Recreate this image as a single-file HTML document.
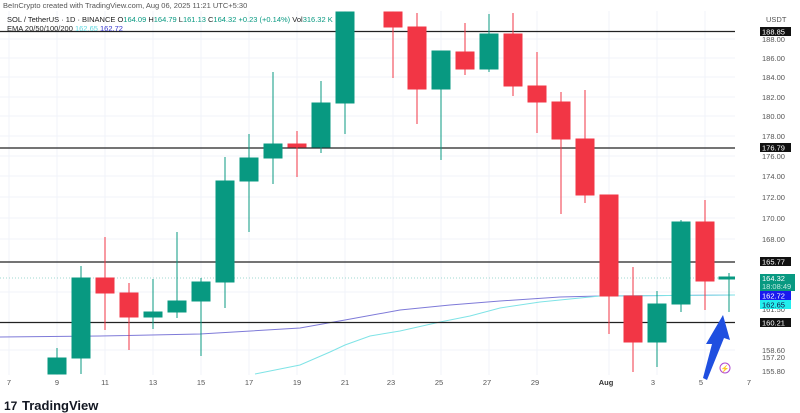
<!DOCTYPE html>
<html><head><meta charset="utf-8"><style>
body{margin:0;background:#fff;font-family:"Liberation Sans",sans-serif}
svg{display:block}
</style></head><body>
<svg width="800" height="413" xmlns="http://www.w3.org/2000/svg" font-family="Liberation Sans, sans-serif">
<rect width="800" height="413" fill="#fff"/>
<g stroke="#f0f3fa" stroke-width="1">
<line x1="9" y1="10" x2="9" y2="375"/><line x1="57" y1="10" x2="57" y2="375"/><line x1="105" y1="10" x2="105" y2="375"/><line x1="153" y1="10" x2="153" y2="375"/><line x1="201" y1="10" x2="201" y2="375"/><line x1="249" y1="10" x2="249" y2="375"/><line x1="297" y1="10" x2="297" y2="375"/><line x1="345" y1="10" x2="345" y2="375"/><line x1="393" y1="10" x2="393" y2="375"/><line x1="441" y1="10" x2="441" y2="375"/><line x1="489" y1="10" x2="489" y2="375"/><line x1="537" y1="10" x2="537" y2="375"/><line x1="609" y1="10" x2="609" y2="375"/><line x1="657" y1="10" x2="657" y2="375"/><line x1="705" y1="10" x2="705" y2="375"/>
<line x1="0" y1="39" x2="735" y2="39"/><line x1="0" y1="58" x2="735" y2="58"/><line x1="0" y1="77" x2="735" y2="77"/><line x1="0" y1="97" x2="735" y2="97"/><line x1="0" y1="116" x2="735" y2="116"/><line x1="0" y1="136" x2="735" y2="136"/><line x1="0" y1="156" x2="735" y2="156"/><line x1="0" y1="176" x2="735" y2="176"/><line x1="0" y1="197" x2="735" y2="197"/><line x1="0" y1="218" x2="735" y2="218"/><line x1="0" y1="239" x2="735" y2="239"/><line x1="0" y1="292" x2="735" y2="292"/><line x1="0" y1="350" x2="735" y2="350"/>
</g>
<line x1="0" y1="278" x2="735" y2="278" stroke="#9fd8d0" stroke-width="1" stroke-dasharray="1,2"/>
<polyline fill="none" stroke="#7e7ad8" stroke-width="1" points="0,337 100,336 200,334 300,328 345,320 400,310 450,305 500,301 560,297 600,296 735,295"/>
<polyline fill="none" stroke="#7fe3e6" stroke-width="1" points="255,374 300,365 330,352 345,345 370,336 400,331 440,322 470,316 500,308 540,302 570,299 600,296 735,295"/>
<g stroke="#222" stroke-width="1.3">
<line x1="0" y1="31.5" x2="735" y2="31.5"/><line x1="0" y1="148" x2="735" y2="148"/><line x1="0" y1="262" x2="735" y2="262"/><line x1="0" y1="322.5" x2="735" y2="322.5"/>
</g>
<g id="c">
<!-- green -->
<g fill="#089981" stroke="#089981">
<line x1="57" y1="348" x2="57" y2="374"/><rect x="48" y="358" width="18" height="16"/>
<line x1="81" y1="266" x2="81" y2="374"/><rect x="72" y="278" width="18" height="80"/>
<line x1="153" y1="279" x2="153" y2="329"/><rect x="144" y="312" width="18" height="5"/>
<line x1="177" y1="232" x2="177" y2="318"/><rect x="168" y="301" width="18" height="11"/>
<line x1="201" y1="278" x2="201" y2="356"/><rect x="192" y="282" width="18" height="19"/>
<line x1="225" y1="157" x2="225" y2="308"/><rect x="216" y="181" width="18" height="101"/>
<line x1="249" y1="134" x2="249" y2="232"/><rect x="240" y="158" width="18" height="23"/>
<line x1="273" y1="72" x2="273" y2="184"/><rect x="264" y="144" width="18" height="14"/>
<line x1="321" y1="81" x2="321" y2="153"/><rect x="312" y="103" width="18" height="44"/>
<line x1="345" y1="13" x2="345" y2="134"/><rect x="336" y="12" width="18" height="91"/>
<line x1="441" y1="51" x2="441" y2="160"/><rect x="432" y="51" width="18" height="38"/>
<line x1="489" y1="14" x2="489" y2="72"/><rect x="480" y="34" width="18" height="35"/>
<line x1="657" y1="291" x2="657" y2="367"/><rect x="648" y="304" width="18" height="38"/>
<line x1="681" y1="220" x2="681" y2="312"/><rect x="672" y="222" width="18" height="82"/>
<line x1="729" y1="273" x2="729" y2="312"/><rect x="719" y="277" width="18" height="2"/>
</g>
<g fill="#f23645" stroke="#f23645">
<line x1="105" y1="237" x2="105" y2="330"/><rect x="96" y="278" width="18" height="15"/>
<line x1="129" y1="283" x2="129" y2="350"/><rect x="120" y="293" width="18" height="24"/>
<line x1="297" y1="131" x2="297" y2="177"/><rect x="288" y="144" width="18" height="3"/>
<line x1="393" y1="12" x2="393" y2="78"/><rect x="384" y="12" width="18" height="15"/>
<line x1="417" y1="13" x2="417" y2="124"/><rect x="408" y="27" width="18" height="62"/>
<line x1="465" y1="23" x2="465" y2="75"/><rect x="456" y="52" width="18" height="17"/>
<line x1="513" y1="13" x2="513" y2="96"/><rect x="504" y="34" width="18" height="52"/>
<line x1="537" y1="52" x2="537" y2="133"/><rect x="528" y="86" width="18" height="16"/>
<line x1="561" y1="92" x2="561" y2="214"/><rect x="552" y="102" width="18" height="37"/>
<line x1="585" y1="90" x2="585" y2="203"/><rect x="576" y="139" width="18" height="56"/>
<line x1="609" y1="195" x2="609" y2="334"/><rect x="600" y="195" width="18" height="101"/>
<line x1="633" y1="267" x2="633" y2="372"/><rect x="624" y="296" width="18" height="46"/>
<line x1="705" y1="200" x2="705" y2="310"/><rect x="696" y="222" width="18" height="59"/>
</g>
</g>
<rect x="0" y="0" width="800" height="11" fill="#fff"/>
<rect x="735" y="0" width="65" height="413" fill="#fff"/>
<rect x="0" y="376" width="735" height="37" fill="#fff"/>
<g font-size="7.5" fill="#555">
<text x="3" y="8">BeInCrypto created with TradingView.com, Aug 06, 2025 11:21 UTC+5:30</text>
</g>
<g font-size="7.5" fill="#222">
<text x="7" y="22">SOL / TetherUS · 1D · BINANCE  O<tspan fill="#089981">164.09</tspan> H<tspan fill="#089981">164.79</tspan> L<tspan fill="#089981">161.13</tspan> C<tspan fill="#089981">164.32</tspan> <tspan fill="#089981">+0.23 (+0.14%)</tspan> Vol<tspan fill="#089981">316.32 K</tspan></text>
<text x="7" y="31">EMA 20/50/100/200 <tspan fill="#5fd8e0">162.65</tspan> <tspan fill="#3333cc">162.72</tspan></text>
</g>
<g font-size="7.5" fill="#555">
<text x="766" y="22">USDT</text>
<text x="762" y="42">188.00</text><text x="762" y="61">186.00</text><text x="762" y="80">184.00</text><text x="762" y="100">182.00</text><text x="762" y="119">180.00</text><text x="762" y="139">178.00</text><text x="762" y="159">176.00</text><text x="762" y="179">174.00</text><text x="762" y="200">172.00</text><text x="762" y="221">170.00</text><text x="762" y="242">168.00</text><text x="762" y="312">161.50</text><text x="762" y="353">158.60</text><text x="762" y="360">157.20</text><text x="762" y="374">155.80</text>
</g>
<g font-size="7.5">
<rect x="760" y="27" width="31" height="9" fill="#111"/><text x="762" y="34.5" fill="#fff">188.85</text>
<rect x="760" y="143" width="31" height="9" fill="#111"/><text x="762" y="150.5" fill="#fff">176.79</text>
<rect x="760" y="257" width="31" height="9" fill="#111"/><text x="762" y="264.5" fill="#fff">165.77</text>
<rect x="760" y="318" width="31" height="9" fill="#111"/><text x="762" y="325.5" fill="#fff">160.21</text>
<rect x="760" y="274" width="35" height="17" fill="#089981"/><text x="762" y="281" fill="#fff">164.32</text><text x="762" y="289" fill="#bfe8e0">18:08:49</text>
<rect x="760" y="291" width="31" height="9" fill="#1a1aee"/><text x="762" y="298.5" fill="#fff">162.72</text>
<rect x="760" y="300" width="31" height="9" fill="#22eeee"/><text x="762" y="307.5" fill="#114">162.65</text>
</g>
<g font-size="7.5" fill="#555" text-anchor="middle">
<text x="9" y="385">7</text><text x="57" y="385">9</text><text x="105" y="385">11</text><text x="153" y="385">13</text><text x="201" y="385">15</text><text x="249" y="385">17</text><text x="297" y="385">19</text><text x="345" y="385">21</text><text x="391" y="385">23</text><text x="439" y="385">25</text><text x="487" y="385">27</text><text x="535" y="385">29</text><text x="606" y="385" font-weight="bold" fill="#333">Aug</text><text x="653" y="385">3</text><text x="701" y="385">5</text><text x="749" y="385">7</text>
</g>
<circle cx="725" cy="368" r="5" fill="none" stroke="#b04ad0" stroke-width="1"/>
<text x="725" y="371" font-size="7" fill="#b04ad0" text-anchor="middle">⚡</text>
<polygon points="703,378 712,344 706,344 723,315 730,340 724,338 707,380" fill="#1f4fe0"/>
<text x="4" y="410" font-size="12" font-weight="bold" fill="#131722">17</text>
<text x="22" y="410" font-size="13" font-weight="bold" fill="#131722">TradingView</text>
</svg>
</body></html>
